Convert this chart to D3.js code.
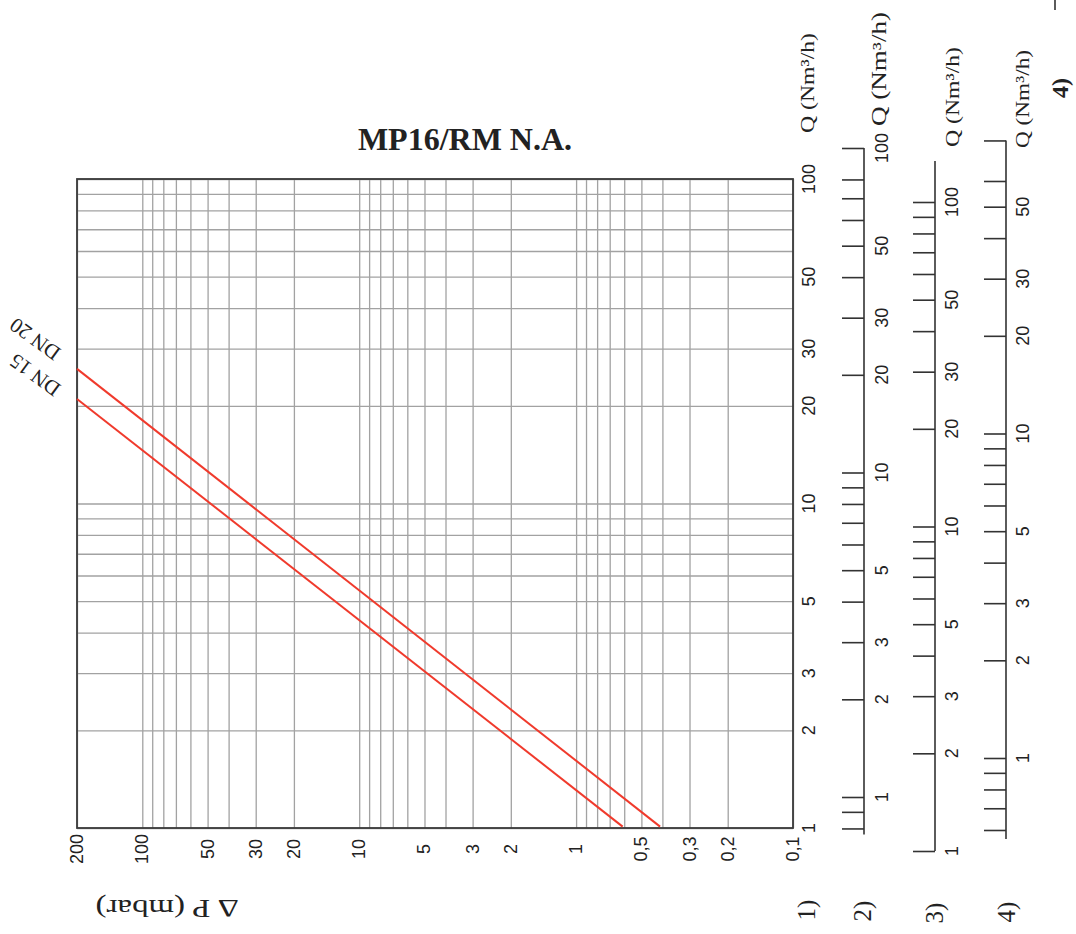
<!DOCTYPE html>
<html><head><meta charset="utf-8">
<script src="https://cdn.jsdelivr.net/npm/d3@7"></script>
<style>
body{margin:0;background:#fff}
svg{display:block}
.grid line{stroke:#a2a2a2;stroke-width:1.3}
.grid path{display:none}
.ax path{display:none}
.ax line{stroke:#333;stroke-width:1.6}
.lbl{font-family:"Liberation Sans",Arial,sans-serif;font-size:18px;fill:#222}
.serif{font-family:"Liberation Serif","Times New Roman",serif;fill:#222}
</style>
</head><body>
<svg id="c" width="1076" height="934"></svg>
<script>
// ---- data ----
const dpGrid = [200,100,90,80,70,60,50,40,30,20,10,9,8,7,6,5,4,3,2,1,0.9,0.8,0.7,0.6,0.5,0.4,0.3,0.2,0.1];
const dpLabels = [200,100,50,30,20,10,5,3,2,1,0.5,0.3,0.2,0.1];
const qGrid = [100,90,80,70,60,50,40,30,20,10,9,8,7,6,5,4,3,2,1];
const q1Labels = [100,50,30,20,10,5,3,2,1];
const q2Ticks = [100,80,70,60,50,40,30,20,10,9,8,7,6,5,4,3,2,1,0.9,0.8];
const q2Labels = [100,50,30,20,10,5,3,2,1];
const q3Ticks = [100,90,80,70,60,50,40,30,20,10,9,8,7,6,5,4,3,2,1];
const q3Labels = [100,50,30,20,10,5,3,2,1];
const q4Ticks = [80,60,50,40,30,20,10,9,8,7,6,5,4,3,2,1,0.9,0.8,0.7,0.6];
const q4Labels = [50,30,20,10,5,3,2,1];
const seriesNames = ["DN 20","DN 15"];
const dn20 = [{dp:200,q:26.0},{dp:0.41,q:1.01}];
const dn15 = [{dp:200,q:21.0},{dp:0.61,q:1.01}];
const axisNames = ["1)","2)","3)","4)"];
const title = "MP16/RM N.A.";
const qTitle = "Q (Nm³/h)";
const dpTitle = "∆ P (mbar)";

// ---- layout ----
const svg = d3.select("#c");
const L = 77, R = 793, T = 179, B = 828;
const x = d3.scaleLog().domain([200, 0.1]).range([L, R]);
const y = d3.scaleLog().domain([1, 100]).range([B, T]);
const dec = (B - T) / 2;
const y2 = d3.scaleLog().domain([1, 100]).range([797, 797 - 2*dec]);
const y3 = d3.scaleLog().domain([1, 100]).range([851, 851 - 2*dec]);
const y4 = d3.scaleLog().domain([1, 100]).range([758, 758 - 2*dec]);
const fmt = d => String(d).replace(".", ",");

// grid
svg.append("g").attr("class","grid").attr("transform",`translate(0,${B})`)
  .call(d3.axisBottom(x).tickValues(dpGrid).tickSize(-(B-T)).tickFormat(""));
svg.append("g").attr("class","grid").attr("transform",`translate(${L},0)`)
  .call(d3.axisLeft(y).tickValues(qGrid).tickSize(-(R-L)).tickFormat(""));
svg.append("rect").attr("x",L).attr("y",T).attr("width",R-L).attr("height",B-T)
  .attr("fill","none").attr("stroke","#3a3a3a").attr("stroke-width",1.8);

// series lines
const line = d3.line().x(d => x(d.dp)).y(d => y(d.q));
[dn20, dn15].forEach(s => {
  svg.append("path").datum(s).attr("d", line)
    .attr("fill","none").attr("stroke","#f03a2c").attr("stroke-width",2);
});

// series labels
const dnPos = [[35,339],[35,375]];
seriesNames.forEach((n,i) => {
  svg.append("text").attr("class","serif")
    .attr("transform",`translate(${dnPos[i][0]},${dnPos[i][1]}) rotate(216)`)
    .attr("text-anchor","middle").attr("dominant-baseline","central")
    .style("font-size","21px").text(n);
});

// bottom dp labels
svg.append("g").selectAll("text").data(dpLabels).join("text")
  .attr("class","lbl")
  .attr("transform", d => `translate(${x(d)},849) rotate(-90)`)
  .attr("text-anchor","middle").attr("dominant-baseline","central")
  .text(fmt);

// right axis 1 labels
svg.append("g").selectAll("text").data(q1Labels).join("text")
  .attr("class","lbl")
  .attr("transform", d => `translate(809,${y(d)}) rotate(-90)`)
  .attr("text-anchor","middle").attr("dominant-baseline","central")
  .text(fmt);

// extra axes
function extraAxis(sc, ticks, labels, ax, lx, top, bot) {
  svg.append("g").attr("class","ax").attr("transform",`translate(${ax},0)`)
    .call(d3.axisLeft(sc).tickValues(ticks).tickSize(22).tickFormat(""));
  svg.append("line").attr("x1",ax).attr("x2",ax).attr("y1",top).attr("y2",bot)
    .attr("stroke","#333").attr("stroke-width",1.6);
  svg.append("g").selectAll("text").data(labels).join("text")
    .attr("class","lbl")
    .attr("transform", d => `translate(${lx},${sc(d)}) rotate(-90)`)
    .attr("text-anchor","middle").attr("dominant-baseline","central")
    .text(fmt);
}
extraAxis(y2, q2Ticks, q2Labels, 864, 882, y2(100), y2(0.8)+6);
extraAxis(y3, q3Ticks, q3Labels, 935, 952, y3(100)-41, y3(1));
extraAxis(y4, q4Ticks, q4Labels, 1006, 1023, y4(80), y4(0.6)+9);

// Q titles
const qPos = [[807,83,100,19],[879,69,114,20],[952,97,100,19],[1022,99,98,19]];
qPos.forEach(p => {
  svg.append("text").attr("class","serif")
    .attr("transform",`translate(${p[0]},${p[1]}) rotate(-90)`)
    .attr("text-anchor","middle").attr("dominant-baseline","central")
    .attr("textLength",p[2]).attr("lengthAdjust","spacingAndGlyphs")
    .style("font-size",p[3]+"px").text(qTitle);
});

// axis numbers at bottom
const anPos = [[806,910],[862,911],[934,913],[1006,912]];
axisNames.forEach((n,i) => {
  svg.append("text").attr("class","serif")
    .attr("transform",`translate(${anPos[i][0]},${anPos[i][1]}) rotate(-90)`)
    .attr("text-anchor","middle").attr("dominant-baseline","central")
    .style("font-size","25px").text(n);
});
// "4)" top right
svg.append("text").attr("class","serif")
  .attr("transform",`translate(1060,88) rotate(-90)`)
  .attr("text-anchor","middle").attr("dominant-baseline","central")
  .style("font-size","24px").style("font-weight","bold").text(axisNames[3]);
svg.append("line").attr("x1",1055).attr("x2",1055).attr("y1",0).attr("y2",10)
  .attr("stroke","#333").attr("stroke-width",1.6);

// dp title (upside down)
svg.append("text").attr("class","serif")
  .attr("transform",`translate(167,908) rotate(180)`)
  .attr("text-anchor","middle").attr("dominant-baseline","central")
  .attr("textLength",143).attr("lengthAdjust","spacingAndGlyphs")
  .style("font-size","25px").text(dpTitle);

// main title
svg.append("text").attr("class","serif")
  .attr("x",465).attr("y",150).attr("text-anchor","middle")
  .style("font-size","32px").style("font-weight","bold").text(title);
</script>
</body></html>
